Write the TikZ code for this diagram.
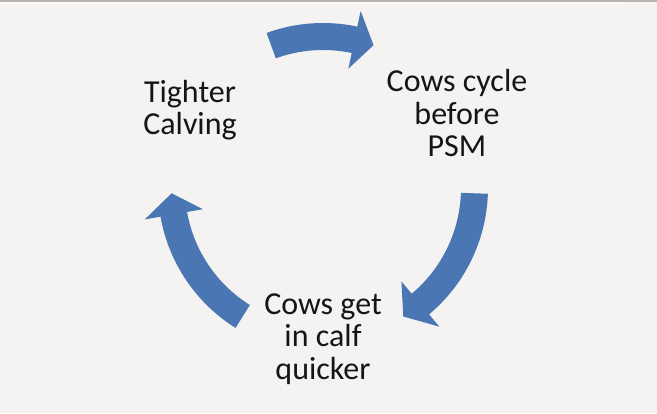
\documentclass[tikz,border=0pt]{standalone}
\usepackage{fontspec}
\setmainfont{Carlito}
\definecolor{bg}{HTML}{F5F3F1}
\definecolor{band}{HTML}{B7B3AF}
\definecolor{arrowblue}{HTML}{4A77B4}
\definecolor{txt}{HTML}{151515}
\newcommand{\cyclearrow}[3]{%
  \fill[arrowblue] (#1:165) arc[start angle=#1, end angle=#2, radius=165]
    -- (#2:181) -- (#3:151.5) -- (#2:122) -- (#2:138)
    arc[start angle=#2, end angle=#1, radius=138] -- cycle;}
\tikzset{label text/.style={align=center, text=txt, inner sep=0pt,
  font=\fontsize{32}{32.5}\selectfont, anchor=base}}
\begin{document}
\begin{tikzpicture}[x=1pt,y=1pt]
\fill[bg] (0,0) rectangle (657,413);
\useasboundingbox (0,0) rectangle (657,413);
\fill[band] (0,410.5) rectangle (657,413);
\fill[white!60!bg] (0,408.5) rectangle (625,410.5);
\begin{scope}[shift={(323,225)}]
  \cyclearrow{110}{78}{70.5}
  \cyclearrow{-2}{-50}{-58}
  \cyclearrow{238}{190}{182}
\end{scope}
\node[label text] (tighter) at (190,278) {Tighter\\Calving};
\node[label text] (cycle) at (457,256) {Cows cycle\\before\\PSM};
\node[label text] (calf) at (323,34) {Cows get\\in calf\\quicker};
\end{tikzpicture}
\end{document}
